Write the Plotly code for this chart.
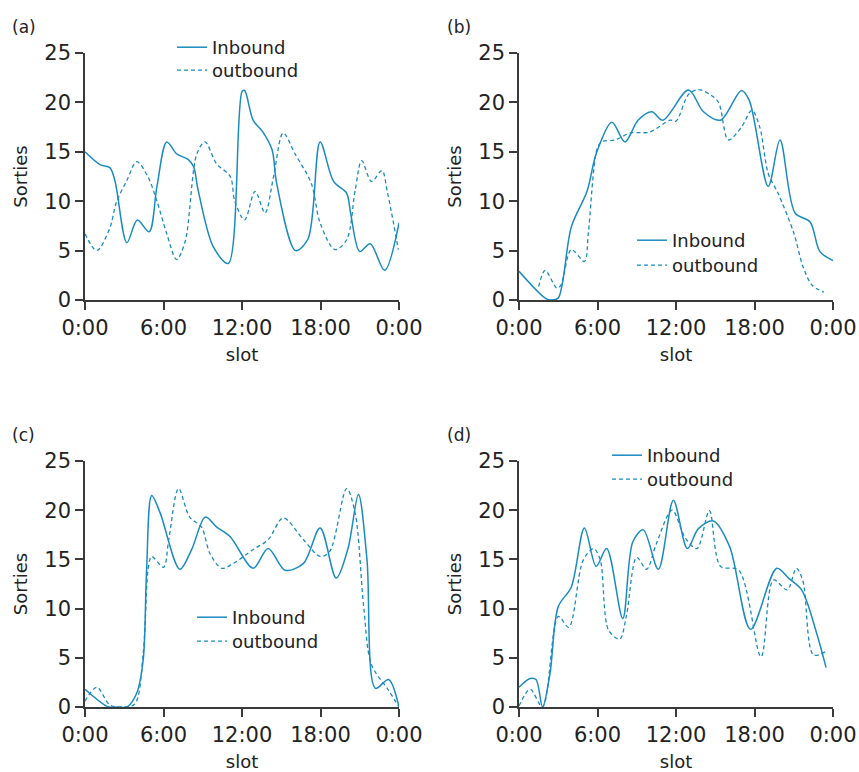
import plotly.graph_objects as go

# ---------------- data (hour of day, sorties) ----------------
TICK_HOURS = [0, 6, 12, 18, 24]
TICK_LABELS = ["0:00", "6:00", "12:00", "18:00", "0:00"]
SERIES_NAMES = ["Inbound", "outbound"]
PANEL_LABELS = ["(a)", "(b)", "(c)", "(d)"]

a_in_h = [0, 1.15, 1.9, 2.3, 3.2, 4.0, 4.9, 5.5, 6.25, 7.0, 7.9, 8.3, 8.65, 9.8, 10.95, 12.0, 12.2, 12.85, 13.6, 14.3, 14.65, 16.1, 17.05, 17.97, 19.0, 20.0, 20.3, 21.0, 21.8, 22.9, 24.0]
a_in_v = [15.0, 13.7, 13.4, 12.0, 5.8, 8.1, 6.9, 11.5, 16.0, 14.8, 14.2, 13.5, 11.1, 5.4, 3.7, 21.1, 21.2, 18.2, 17.0, 15.2, 11.8, 5.0, 6.2, 16.0, 12.0, 10.8, 8.8, 4.9, 5.7, 3.0, 7.8]
a_out_h = [0, 0.9, 1.9, 2.4, 3.2, 3.95, 4.8, 5.5, 6.25, 7.0, 7.65, 8.55, 9.17, 10.05, 11.1, 11.45, 12.2, 13.0, 13.76, 14.4, 15.15, 16.05, 17.3, 17.97, 19.1, 20.0, 20.65, 21.15, 21.9, 22.7, 23.1, 23.95]
a_out_v = [6.7, 5.0, 7.3, 9.9, 12.1, 14.0, 12.5, 10.0, 6.7, 4.1, 5.9, 14.8, 16.0, 13.8, 12.5, 10.0, 8.1, 11.0, 8.8, 12.4, 16.9, 14.8, 11.8, 7.8, 5.1, 6.1, 11.1, 14.1, 12.0, 13.1, 11.0, 5.1]

b_in_h = [0, 2.0, 2.5, 3.0, 4.0, 5.2, 5.9, 7.1, 8.1, 9.1, 10.15, 11.0, 12.95, 14.1, 15.4, 17.0, 17.6, 19.05, 19.95, 21.1, 22.25, 23.0, 24.0]
b_in_v = [2.9, 0.2, 0.0, 0.2, 7.4, 11.0, 14.8, 18.0, 16.0, 18.2, 19.05, 18.2, 21.25, 19.05, 18.2, 21.2, 20.2, 11.5, 16.2, 8.8, 7.9, 4.9, 4.0]
b_out_h = [1.5, 2.0, 2.9, 3.2, 4.0, 5.0, 5.3, 5.95, 6.3, 7.35, 8.5, 10.0, 11.55, 12.0, 12.95, 13.7, 14.6, 15.25, 16.0, 17.0, 17.8, 18.4, 19.05, 19.8, 21.0, 21.7, 22.4, 23.3]
b_out_v = [1.35, 3.0, 1.2, 1.5, 5.1, 3.9, 6.8, 15.2, 16.0, 16.2, 16.9, 17.0, 18.2, 18.1, 20.8, 21.3, 20.8, 20.0, 16.2, 17.5, 19.2, 17.5, 12.8, 10.8, 6.8, 3.4, 1.5, 0.8]

c_in_h = [0, 1.8, 2.5, 3.2, 3.95, 4.45, 4.7, 5.1, 5.75, 7.25, 8.15, 9.2, 10.05, 11.1, 12.85, 14.0, 15.3, 16.7, 17.97, 19.2, 20.1, 20.9, 21.55, 22.2, 23.2, 24.0]
c_in_v = [1.8, 0.0, 0.0, 0.0, 1.4, 4.8, 13.6, 21.5, 19.7, 14.0, 16.0, 19.3, 18.3, 17.3, 14.1, 16.1, 13.9, 14.6, 18.2, 13.1, 16.1, 21.6, 15.0, 1.9, 2.8, 0.0]
c_out_h = [0, 0.9, 1.9, 2.8, 3.8, 4.45, 4.85, 5.1, 6.0, 6.4, 7.15, 8.0, 8.9, 9.55, 10.45, 11.35, 12.85, 14.0, 15.15, 16.7, 17.97, 18.7, 20.0, 20.65, 21.3, 21.9, 23.2, 24.0]
c_out_v = [0.6, 2.0, 0.2, 0.0, 0.3, 5.5, 14.3, 15.3, 14.2, 17.0, 22.2, 19.3, 18.3, 15.6, 14.1, 14.6, 16.0, 17.0, 19.2, 17.0, 15.3, 15.8, 22.2, 19.7, 10.2, 4.3, 1.7, 0.0]

d_in_h = [0, 0.85, 1.3, 1.8, 2.37, 3.0, 4.0, 5.0, 5.9, 6.7, 7.93, 8.7, 9.5, 10.65, 11.8, 12.87, 13.7, 14.85, 16.1, 17.7, 19.7, 20.6, 21.6, 22.75, 23.47]
d_in_v = [2.0, 2.9, 2.8, 0.0, 3.4, 10.2, 12.2, 18.2, 14.3, 16.1, 9.0, 16.8, 18.0, 14.0, 21.0, 16.1, 18.1, 18.9, 16.3, 7.9, 14.1, 13.1, 11.9, 7.5, 4.0]
d_out_h = [0, 0.85, 1.8, 3.0, 3.8, 4.9, 5.7, 6.2, 6.85, 7.7, 8.2, 9.0, 9.75, 10.5, 11.7, 12.7, 13.6, 14.55, 15.4, 16.8, 18.5, 19.45, 20.5, 21.2, 21.7, 22.5, 23.4]
d_out_v = [0.1, 1.8, 0.0, 9.2, 8.1, 14.9, 16.1, 15.0, 7.8, 6.9, 9.2, 15.2, 14.0, 16.6, 20.0, 17.2, 16.1, 19.95, 14.3, 13.9, 5.1, 12.9, 11.9, 14.1, 12.8, 5.3, 5.6]

PANELS = [
    (a_in_h, a_in_v, a_out_h, a_out_v),
    (b_in_h, b_in_v, b_out_h, b_out_v),
    (c_in_h, c_in_v, c_out_h, c_out_v),
    (d_in_h, d_in_v, d_out_h, d_out_v),
]

# ---------------- styling ----------------
W, H = 859, 772
COLOR = "#1a8bc0"
AXIS_COLOR = "#3a3a3a"
FONT = "DejaVu Sans"
TXT = "#222222"

# plot-area pixel boxes: (left, right, top(25), bottom(0))
BOXES = [(85, 399, 53, 300), (519, 833, 53, 300), (85, 399, 461, 707), (519, 833, 461, 707)]
# legend text start x and row centre y (Inbound, outbound) per panel (pixels)
LEG_TEXT_X = [212, 672, 232, 647]
LEG_ROW_Y = [(47, 70), (240, 265), (617, 641), (455, 479)]
# panel label positions (pixel)
LAB_POS = [(10, 27), (445, 27), (10, 435), (445, 435)]

fig = go.Figure()
layout = dict(
    width=W, height=H, margin=dict(l=0, r=0, t=0, b=0),
    paper_bgcolor="white", plot_bgcolor="white",
    font=dict(family=FONT, color=TXT),
    showlegend=True, annotations=[],
)

leg_idx = 0
for i, (ih, iv, oh, ov) in enumerate(PANELS):
    n = "" if i == 0 else str(i + 1)
    styles = [dict(color=COLOR, width=1.5, shape="spline", smoothing=0.9),
              dict(color=COLOR, width=1.3, dash="4px,3px", shape="spline", smoothing=0.9)]
    for k, (xs, ys) in enumerate([(ih, iv), (oh, ov)]):
        leg_idx += 1
        leg = "legend" if leg_idx == 1 else f"legend{leg_idx}"
        fig.add_trace(go.Scatter(x=xs, y=ys, mode="lines", name=SERIES_NAMES[k],
                                 line=styles[k], xaxis=f"x{n}", yaxis=f"y{n}", legend=leg))
        lx = LEG_TEXT_X[i] - 40
        ly = LEG_ROW_Y[i][k] - 18
        layout[leg] = dict(
            x=lx / W, y=1 - ly / H, xanchor="left", yanchor="top",
            bgcolor="rgba(0,0,0,0)", borderwidth=0,
            font=dict(size=18, family=FONT, color=TXT), itemwidth=30,
        )
    l, r, t, b = BOXES[i]
    layout[f"xaxis{n}"] = dict(
        domain=[l / W, r / W], range=[0, 24], anchor=f"y{n}", automargin=False,
        tickvals=TICK_HOURS, ticktext=TICK_LABELS,
        showline=True, linecolor=AXIS_COLOR, linewidth=1.6,
        ticks="outside", ticklen=8, tickwidth=1.6, tickcolor=AXIS_COLOR,
        showgrid=False, zeroline=False,
        tickfont=dict(size=21, family=FONT, color=TXT),
        title=dict(text="slot", font=dict(size=18, family=FONT, color=TXT), standoff=9),
    )
    layout[f"yaxis{n}"] = dict(
        domain=[1 - b / H, 1 - t / H], range=[0, 25], anchor=f"x{n}", automargin=False,
        tickvals=[0, 5, 10, 15, 20, 25],
        showline=True, linecolor=AXIS_COLOR, linewidth=1.6,
        ticks="outside", ticklen=8, tickwidth=1.6, tickcolor=AXIS_COLOR,
        showgrid=False, zeroline=False,
        tickfont=dict(size=21, family=FONT, color=TXT),
        title=dict(text="Sorties", font=dict(size=18, family=FONT, color=TXT), standoff=12),
    )
    px_, py_ = LAB_POS[i]
    layout["annotations"].append(dict(
        text=PANEL_LABELS[i], x=px_ / W, y=1 - py_ / H, xref="paper", yref="paper",
        xanchor="left", yanchor="middle", showarrow=False,
        font=dict(size=17, family=FONT, color=TXT),
    ))

fig.update_layout(**layout)
fig.write_html("out.html")
